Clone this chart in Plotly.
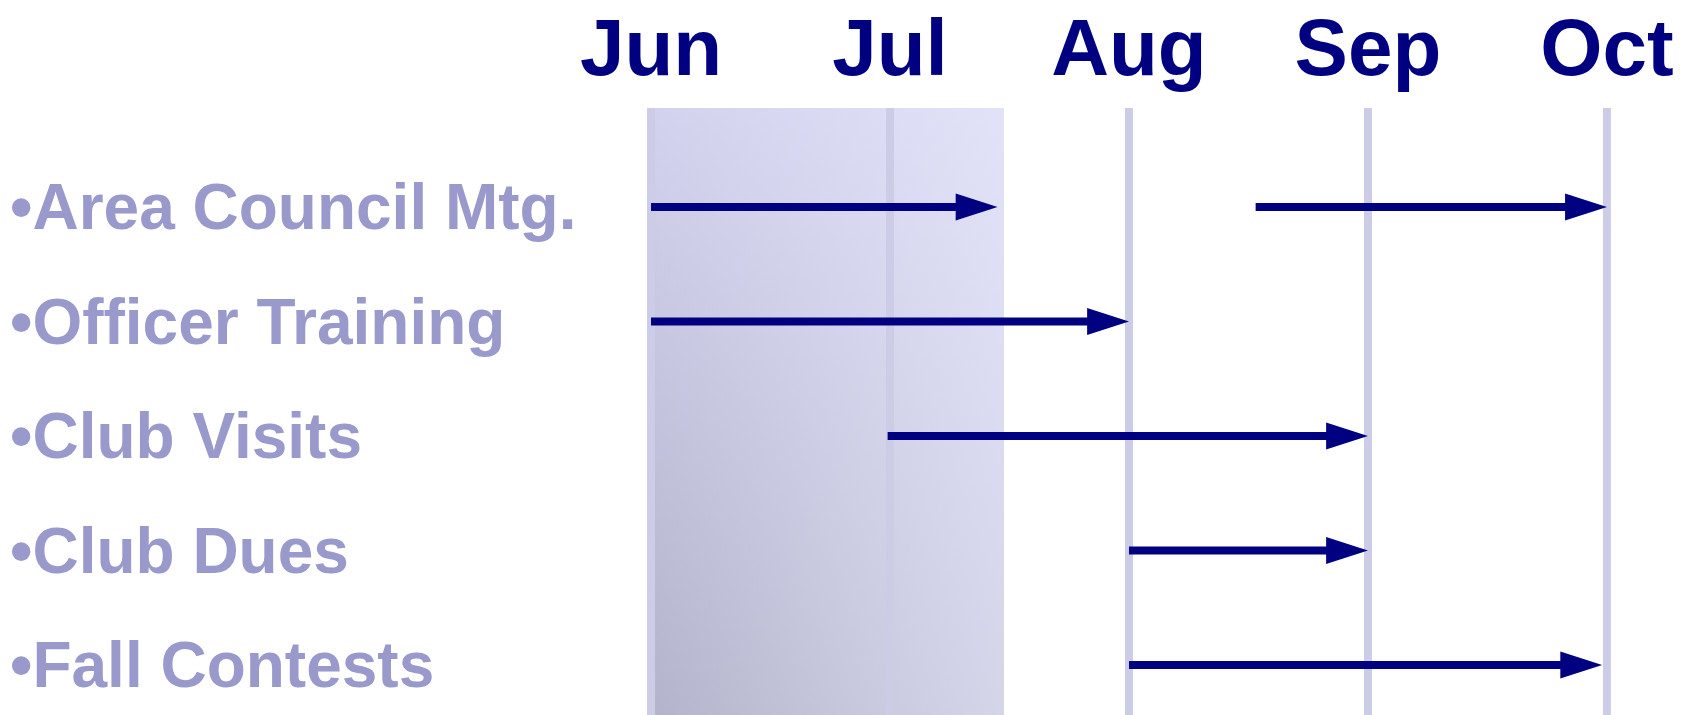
import plotly.graph_objects as go

# ---- data ----
months = ["Jun", "Jul", "Aug", "Sep", "Oct"]
month_pos = [0, 1, 2, 3, 4]

tasks = ["•Area Council Mtg.", "•Officer Training", "•Club Visits", "•Club Dues", "•Fall Contests"]
# arrows: (task index, start month position, end month position)
arrow_task = [0, 0, 1, 2, 3, 4]
arrow_start = [0.0, 2.53, 0.0, 0.99, 2.0, 2.0]
arrow_end = [1.45, 4.0, 2.0, 3.0, 3.0, 3.98]

# shaded "elapsed" band (month positions)
shade_start = 0.0
shade_end = 1.477

# ---- layout constants ----
NAVY = "#000080"
LAV = "#9999cc"
GRID = "rgb(204,204,230)"
FONT = "Liberation Sans"

n = len(tasks)
row_y = [n - 1 - i for i in range(n)]
y_lo, y_hi = -0.4367, 4.8646
x_lo, x_hi = -2.695, 4.356

fig = go.Figure()

# shaded band: vertical gradient base
fig.add_trace(go.Scatter(
    x=[shade_start, shade_end, shade_end, shade_start],
    y=[y_lo, y_lo, y_hi, y_hi],
    mode="none", fill="toself",
    fillgradient=dict(type="vertical", start=y_lo, stop=y_hi,
                      colorscale=[[0, "rgb(179,179,203)"], [1, "rgb(210,210,238)"]]),
    hoverinfo="skip", showlegend=False,
))
# shaded band: horizontal lightening overlay
fig.add_trace(go.Scatter(
    x=[shade_start, shade_end, shade_end, shade_start],
    y=[y_lo, y_lo, y_hi, y_hi],
    mode="none", fill="toself",
    fillgradient=dict(type="horizontal", start=shade_start, stop=shade_end,
                      colorscale=[[0, "rgba(236,236,255,0)"], [1, "rgba(236,236,255,0.6)"]]),
    hoverinfo="skip", showlegend=False,
))

# month guide lines
gx, gy = [], []
for p in month_pos:
    gx += [p, p, None]
    gy += [y_lo, y_hi, None]
fig.add_trace(go.Scatter(x=gx, y=gy, mode="lines",
                         line=dict(color=GRID, width=8),
                         hoverinfo="skip", showlegend=False))

# arrows
for t, s, e in zip(arrow_task, arrow_start, arrow_end):
    fig.add_trace(go.Scatter(
        x=[s, e], y=[row_y[t], row_y[t]],
        mode="lines+markers",
        line=dict(color=NAVY, width=8),
        marker=dict(symbol="arrow", angleref="previous", size=[0, 44], color=NAVY,
                    opacity=1, line=dict(width=0, color=NAVY)),
        hoverinfo="skip", showlegend=False,
    ))

fig.update_layout(
    width=1692, height=715,
    margin=dict(l=7, r=0, t=108, b=0),
    paper_bgcolor="white", plot_bgcolor="white",
    showlegend=False,
    xaxis=dict(
        range=[x_lo, x_hi], side="top", automargin=False,
        tickvals=month_pos, ticktext=months,
        tickfont=dict(family=FONT, size=80, color=NAVY, weight="bold"),
        ticklabelstandoff=16,
        showgrid=False, zeroline=False, showline=False, ticks="",
    ),
    yaxis=dict(
        range=[y_lo, y_hi], automargin=False,
        tickvals=row_y, ticktext=tasks,
        ticklabelposition="inside",
        tickfont=dict(family=FONT, size=64, color=LAV, weight="bold"),
        showgrid=False, zeroline=False, showline=False, ticks="",
    ),
)

fig.write_html("out.html", config={"displayModeBar": False},
               post_script="document.body.style.margin='0px';")
